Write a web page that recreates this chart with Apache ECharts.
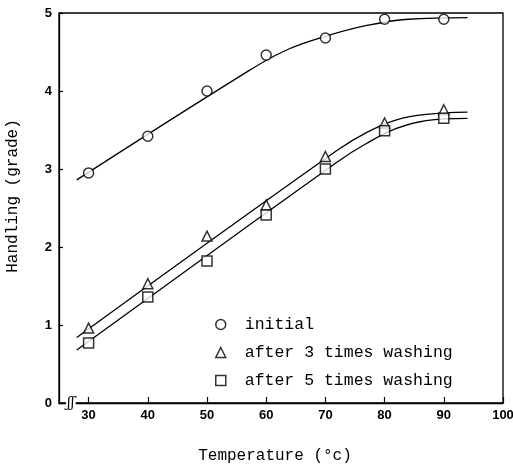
<!DOCTYPE html>
<html><head><meta charset="utf-8">
<script src="https://cdn.jsdelivr.net/npm/echarts@6/dist/echarts.min.js"></script>
<style>html,body{margin:0;padding:0;background:#fff}#c{width:513px;height:469px}</style>
</head><body><div id="c"></div>
<script>
const temps = [30, 40, 50, 60, 70, 80, 90];
const initial = [2.95, 3.42, 4.0, 4.46, 4.68, 4.92, 4.92];
const wash3 = [0.96, 1.53, 2.14, 2.54, 3.16, 3.59, 3.76];
const wash5 = [0.77, 1.36, 1.82, 2.41, 3.0, 3.49, 3.65];

const fitInitialX = [28, 56, 63, 70, 77, 84, 94];
const fitInitialY = [2.86, 4.21, 4.51, 4.70, 4.84, 4.92, 4.94];
const fitWashX = [28, 72, 77, 82, 87, 94];
const fit3Y = [0.84, 3.24, 3.47, 3.63, 3.70, 3.73];
const fit5Y = [0.68, 3.09, 3.33, 3.52, 3.62, 3.65];

const xTicks = [30, 40, 50, 60, 70, 80, 90, 100];
const yTicks = [0, 1, 2, 3, 4, 5];
const names = ['initial', 'after 3 times washing', 'after 5 times washing'];

const pair = (xs, ys) => xs.map((x, i) => [x, ys[i]]);
const mono = 'Liberation Mono';
const chart = echarts.init(document.getElementById('c'), null, {renderer: 'canvas'});

function fit(xs, ys) {
  return {type: 'line', data: pair(xs, ys), smooth: 0.4, showSymbol: false,
    symbol: 'none', lineStyle: {color: '#000', width: 1.3}, z: 2, silent: true};
}
function pts(name, ys, sym) {
  return {type: 'scatter', name: name, data: pair(temps, ys), symbol: sym, symbolSize: 10,
    itemStyle: {color: '#fff', borderColor: '#000', borderWidth: 1.5}, z: 5};
}

chart.setOption({
  animation: false,
  backgroundColor: '#fff',
  grid: {left: 59, right: 10, top: 13, bottom: 66, show: true, borderColor: '#000', borderWidth: 1.3,
    containLabel: false, outerBoundsMode: 'none'},
  xAxis: {
    type: 'value', min: 25, max: 100,
    name: 'Temperature (°c)', nameLocation: 'middle', nameGap: 45,
    nameTextStyle: {fontFamily: mono, fontSize: 16, color: '#000', padding: [0, 12, 0, 0]},
    axisLine: {lineStyle: {color: '#000', width: 1.3}},
    axisTick: {inside: true, length: 6, lineStyle: {color: '#000', width: 1.2}, customValues: xTicks},
    axisLabel: {customValues: xTicks, color: '#000', fontFamily: 'Liberation Sans', fontWeight: 'bold', fontSize: 13, margin: 6},
    splitLine: {show: false}
  },
  yAxis: {
    type: 'value', min: 0, max: 5, interval: 1,
    name: 'Handling (grade)', nameLocation: 'middle', nameGap: 38, nameRotate: 90,
    nameTextStyle: {fontFamily: mono, fontSize: 16, color: '#000', padding: [0, 0, 0, 24]},
    axisLine: {lineStyle: {color: '#000', width: 1.3}},
    axisTick: {inside: true, length: 4, lineStyle: {color: '#000', width: 1.2}},
    axisLabel: {color: '#000', fontFamily: 'Liberation Sans', fontWeight: 'bold', fontSize: 13, margin: 7,
      customValues: yTicks},
    splitLine: {show: false}
  },
  legend: {
    data: names.map((n, i) => ({name: n, icon: ['circle', 'triangle', 'rect'][i]})),
    orient: 'vertical', left: 210, top: 311, itemGap: 11, itemWidth: 10, itemHeight: 10,
    textStyle: {fontFamily: mono, fontSize: 16.5, color: '#000', padding: [0, 0, 0, 14]},
    itemStyle: {color: '#fff', borderColor: '#000', borderWidth: 1.5},
    selectedMode: false
  },
  series: [
    fit(fitInitialX, fitInitialY),
    fit(fitWashX, fit3Y),
    fit(fitWashX, fit5Y),
    pts(names[0], initial, 'circle'),
    pts(names[1], wash3, 'triangle'),
    pts(names[2], wash5, 'rect')
  ]
});

const bp = chart.convertToPixel({gridIndex: 0}, [27, 0]);
chart.setOption({graphic: [{type: 'text', x: bp[0], y: bp[1], z: 100,
  style: {text: 'ʃʃ', fontFamily: 'DejaVu Serif', fontStyle: 'italic', fontSize: 14, fill: '#000',
    align: 'center', verticalAlign: 'middle', backgroundColor: '#fff', padding: [0, 1]}}]});
</script></body></html>
